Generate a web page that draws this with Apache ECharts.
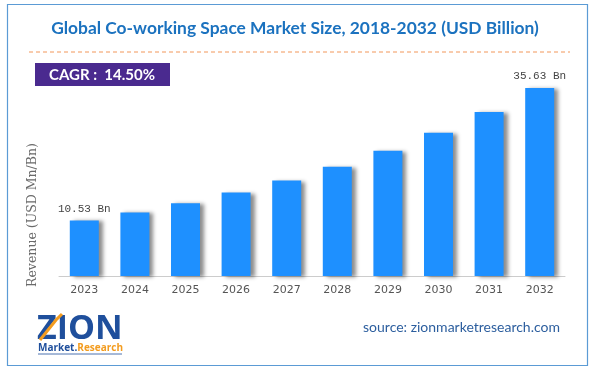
<!DOCTYPE html>
<html>
<head>
<meta charset="utf-8">
<script src="https://cdn.jsdelivr.net/npm/echarts@6/dist/echarts.min.js"></script>
<style>html,body{margin:0;padding:0;background:#fff;}#c{width:593px;height:372px;}</style>
</head>
<body>
<div id="c"></div>
<script>
const years = ['2023','2024','2025','2026','2027','2028','2029','2030','2031','2032'];
const revenue = [10.53, 12.06, 13.81, 15.81, 18.10, 20.72, 23.73, 27.17, 31.11, 35.63];
const labelledIdx = [0, 9];
const titleText = 'Global Co-working Space Market Size, 2018-2032 (USD Billion)';
const cagrText = 'CAGR :  14.50%';
const yAxisName = 'Revenue (USD Mn/Bn)';
const sourceText = 'source: zionmarketresearch.com';

const chart = echarts.init(document.getElementById('c'), null, {renderer:'canvas'});
const barData = revenue.map((v,i)=>({
  value: v,
  label: {show: labelledIdx.indexOf(i) >= 0}
}));
chart.setOption({
  animation: false,
  backgroundColor: '#fff',
  grid: {left: 59, right: 28, top: 65, bottom: 96},
  xAxis: {
    type: 'category', data: years,
    axisLine: {lineStyle: {color: '#cccccc', width: 1}},
    axisTick: {show: false},
    axisLabel: {color: '#555', fontFamily: 'DejaVu Sans', fontSize: 11, margin: 9}
  },
  yAxis: {
    type: 'value', min: 0, max: 40,
    show: false, splitLine: {show: false}
  },
  series: [{
    type: 'bar', data: barData, barWidth: 29,
    itemStyle: {color: '#1e90ff', shadowColor: 'rgba(0,0,0,0.45)', shadowBlur: 4, shadowOffsetX: 4, shadowOffsetY: 1},
    label: {position: 'top', distance: 6, color: '#444', fontFamily: 'Liberation Mono', fontSize: 11,
      formatter: p => p.value.toFixed(2) + ' Bn'}
  }],
  graphic: [
    {type: 'rect', shape: {x: 7.5, y: 4.5, width: 580, height: 361}, style: {fill: 'none', stroke: '#5b9bd5', lineWidth: 1.2}, silent: true},
    {type: 'text', x: 295, y: 28.5, style: {text: titleText, fill: '#1b72bf', font: 'bold 17.4px Lato', textAlign: 'center', textVerticalAlign: 'middle'}},
    {type: 'line', shape: {x1: 29, y1: 52, x2: 570, y2: 52}, style: {stroke: '#f2975a', lineWidth: 1, lineDash: [4, 3]}},
    {type: 'rect', shape: {x: 35, y: 63, width: 135, height: 23}, style: {fill: '#4a2a8f'}},
    {type: 'text', x: 102, y: 75, style: {text: cagrText, fill: '#fff', font: 'bold 15px Lato', textAlign: 'center', textVerticalAlign: 'middle'}},
    {type: 'text', x: 33, y: 215, rotation: Math.PI/2, style: {text: yAxisName, fill: '#6a6a6a', font: '12.5px "DejaVu Serif"', textAlign: 'center', textVerticalAlign: 'middle'}},
    {type: 'text', x: 560, y: 327, style: {text: sourceText, fill: '#2c5e9e', font: '14px Lato', textAlign: 'right', textVerticalAlign: 'middle'}},
    {type: 'text', x: 37, y: 329, style: {text: 'ZION', fill: '#1f4f9c', font: 'bold 34px "Open Sans"', textAlign: 'left', textVerticalAlign: 'middle'}},
    {type: 'polyline', shape: {points: [[40,340],[56,320],[62,314]]}, style: {stroke: '#f39c1f', lineWidth: 3, fill: 'none'}},
    {type: 'text', x: 38, y: 348, style: {text: '{a|Market.}{b|Research}', rich: {a: {fill: '#1f4f9c', font: 'bold 10px "Open Sans"'}, b: {fill: '#f39c1f', font: 'bold 10px "Open Sans"'}}, textVerticalAlign: 'middle'}},
    {type: 'line', shape: {x1: 38, y1: 354, x2: 122, y2: 354}, style: {stroke: '#1f4f9c', lineWidth: 0.8}}
  ]
});
</script>
</body>
</html>
